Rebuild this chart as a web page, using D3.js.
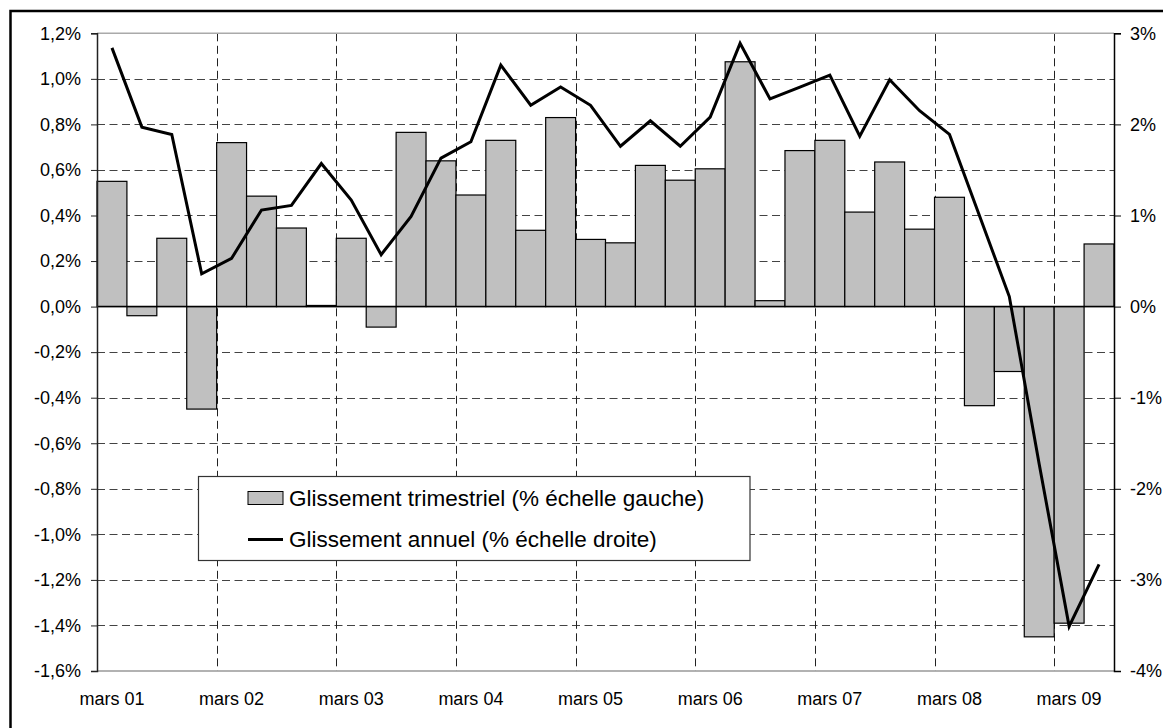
<!DOCTYPE html>
<html>
<head>
<meta charset="utf-8">
<script src="https://cdn.jsdelivr.net/npm/d3@7"></script>
<style>
    body { margin: 0; background: #fff; }
    svg { display: block; font-family: Arial, "Liberation Sans", sans-serif; }
</style>
</head>
<body>
<svg id="chart" width="1163" height="728"></svg>
<script>
// Glissement trimestriel (bars, left axis) and annuel (line, right axis)

// Quarters from mars 01 to juin 09
var quarters = ["mars 01", "juin 01", "sept 01", "déc 01",
    "mars 02", "juin 02", "sept 02", "déc 02",
    "mars 03", "juin 03", "sept 03", "déc 03",
    "mars 04", "juin 04", "sept 04", "déc 04",
    "mars 05", "juin 05", "sept 05", "déc 05",
    "mars 06", "juin 06", "sept 06", "déc 06",
    "mars 07", "juin 07", "sept 07", "déc 07",
    "mars 08", "juin 08", "sept 08", "déc 08",
    "mars 09", "juin 09"];

// Quarterly change, % (left scale)
var trimestriel = [0.55, -0.04, 0.30, -0.45,
    0.72, 0.485, 0.345, 0.005,
    0.30, -0.09, 0.765, 0.64,
    0.49, 0.73, 0.335, 0.83,
    0.295, 0.28, 0.62, 0.555,
    0.605, 1.075, 0.026, 0.685,
    0.73, 0.415, 0.635, 0.34,
    0.48, -0.435, -0.285, -1.45,
    -1.39, 0.275];

// Annual change, % (right scale)
var annuel = [2.84, 1.97, 1.89, 0.36,
    0.53, 1.06, 1.11, 1.57,
    1.17, 0.57, 0.99, 1.63,
    1.81, 2.65, 2.21, 2.41,
    2.21, 1.76, 2.04, 1.76,
    2.08, 2.89, 2.28, 2.41,
    2.54, 1.87, 2.49, 2.15,
    1.89, 1.00, 0.11, -1.73,
    -3.51, -2.83];

var leftTicks = [-1.6, -1.4, -1.2, -1.0, -0.8, -0.6, -0.4, -0.2, 0, 0.2, 0.4, 0.6, 0.8, 1.0, 1.2];
var rightTicks = [-4, -3, -2, -1, 0, 1, 2, 3];

var legendLabels = ["Glissement trimestriel (% échelle gauche)",
    "Glissement annuel (% échelle droite)"];

var plot = { left: 97, right: 1114, top: 33.3, bottom: 671 };
var svg = d3.select("#chart");
// french decimal comma, plain hyphen for negatives
var frFormat = d3.formatLocale({ decimal: ",", thousands: " ", grouping: [3], currency: ["", " €"], minus: "-" });

var x = d3.scaleBand()
    .domain(d3.range(quarters.length))
    .range([plot.left, plot.right])
    .padding(0);

var yL = d3.scaleLinear().domain([-1.6, 1.2]).range([plot.bottom, plot.top]);
var yR = d3.scaleLinear().domain([-4, 3]).range([plot.bottom, plot.top]);

// outer frame (only top and left edges fall inside the picture)
svg.append("rect")
    .attr("x", 10.5).attr("y", 11)
    .attr("width", 1300).attr("height", 900)
    .style("fill", "none").style("stroke", "#000").style("stroke-width", 2.5);

// horizontal gridlines
svg.append("g").selectAll("line")
    .data(leftTicks.filter(function(d) { return d > -1.6 && d < 1.2 && d !== 0; }))
    .enter().append("line")
    .attr("x1", plot.left).attr("x2", plot.right)
    .attr("y1", function(d) { return Math.round(yL(d)) + 0.5; })
    .attr("y2", function(d) { return Math.round(yL(d)) + 0.5; })
    .style("stroke", "#444").style("stroke-dasharray", "8,4.5");

// vertical gridlines every four quarters
svg.append("g").selectAll("line")
    .data(d3.range(4, quarters.length, 4))
    .enter().append("line")
    .attr("x1", function(d) { return Math.round(x(d)) + 0.5; })
    .attr("x2", function(d) { return Math.round(x(d)) + 0.5; })
    .attr("y1", plot.top).attr("y2", plot.bottom)
    .style("stroke", "#222").style("stroke-dasharray", "8,4.5");

// top and bottom edges of the plot area
svg.append("line")
    .attr("x1", plot.left).attr("x2", plot.right)
    .attr("y1", plot.top).attr("y2", plot.top)
    .style("stroke", "#aaa").style("stroke-width", 1.5);
svg.append("line")
    .attr("x1", plot.left).attr("x2", plot.right)
    .attr("y1", plot.bottom).attr("y2", plot.bottom)
    .style("stroke", "#999").style("stroke-width", 1.5);

// bars
svg.append("g").selectAll("rect")
    .data(trimestriel)
    .enter().append("rect")
    .attr("x", function(d, i) { return x(i); })
    .attr("width", x.bandwidth())
    .attr("y", function(d) { return yL(Math.max(0, d)); })
    .attr("height", function(d) { return Math.abs(yL(d) - yL(0)); })
    .style("fill", "#c0c0c0")
    .style("stroke", "#000")
    .style("stroke-width", 1.2);

// zero line
svg.append("line")
    .attr("x1", plot.left).attr("x2", plot.right)
    .attr("y1", yL(0)).attr("y2", yL(0))
    .style("stroke", "#000").style("stroke-width", 1.5);

// left axis
var leftAxis = d3.axisLeft(yL)
    .tickValues(leftTicks)
    .tickSize(6)
    .tickPadding(10)
    .tickFormat(function(d) { return frFormat.format(".1f")(d) + "%"; });

var gL = svg.append("g")
    .attr("transform", "translate(" + plot.left + ",0)")
    .call(leftAxis);
gL.select(".domain").style("stroke", "#222").style("stroke-width", 1.5);
gL.selectAll("line").style("stroke", "#222");
gL.selectAll("text").style("font-size", "18px").style("fill", "#000")
    .style("font-family", "Arial, 'Liberation Sans', sans-serif");

// right axis
var rightAxis = d3.axisRight(yR)
    .tickValues(rightTicks)
    .tickSize(7)
    .tickPadding(9)
    .tickFormat(function(d) { return frFormat.format("d")(d) + "%"; });

var gR = svg.append("g")
    .attr("transform", "translate(" + plot.right + ",0)")
    .call(rightAxis);
gR.select(".domain").style("stroke", "#000").style("stroke-width", 1.5);
gR.selectAll("line").style("stroke", "#000");
gR.selectAll("text").style("font-size", "18px").style("fill", "#000")
    .style("font-family", "Arial, 'Liberation Sans', sans-serif");

// category labels (only the mars quarters)
svg.append("g").selectAll("text")
    .data(d3.range(0, quarters.length, 4))
    .enter().append("text")
    .attr("x", function(d) { return x(d) + x.bandwidth() / 2; })
    .attr("y", 705)
    .attr("text-anchor", "middle")
    .style("font-size", "18px")
    .text(function(d) { return quarters[d]; });

// annual line
var line = d3.line()
    .x(function(d, i) { return x(i) + x.bandwidth() / 2; })
    .y(function(d) { return yR(d); });

svg.append("path")
    .datum(annuel)
    .attr("d", line)
    .style("fill", "none")
    .style("stroke", "#000")
    .style("stroke-width", 3)
    .style("stroke-linejoin", "miter");

// legend
var legend = svg.append("g");
legend.append("rect")
    .attr("x", 198.5).attr("y", 476.5)
    .attr("width", 551.5).attr("height", 84)
    .style("fill", "#fff").style("stroke", "#333").style("stroke-width", 1.2);
legend.append("rect")
    .attr("x", 248).attr("y", 491.5)
    .attr("width", 35).attr("height", 13)
    .style("fill", "#c0c0c0").style("stroke", "#000");
legend.append("line")
    .attr("x1", 248).attr("x2", 283)
    .attr("y1", 539.5).attr("y2", 539.5)
    .style("stroke", "#000").style("stroke-width", 3);
legend.selectAll("text.lg")
    .data(legendLabels)
    .enter().append("text")
    .attr("class", "lg")
    .attr("x", 289)
    .attr("y", function(d, i) { return 505.5 + i * 41; })
    .style("font-size", "22.5px")
    .text(function(d) { return d; });
</script>
</body>
</html>
